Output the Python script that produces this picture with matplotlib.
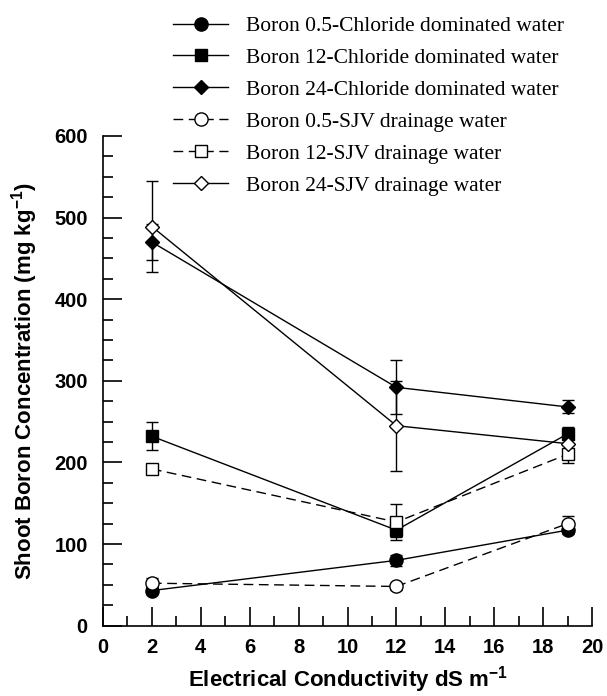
import matplotlib
matplotlib.use("Agg")
import matplotlib.pyplot as plt
from matplotlib.ticker import MultipleLocator

plt.rcParams["mathtext.fontset"] = "custom"
plt.rcParams["mathtext.rm"] = "Liberation Sans"
plt.rcParams["mathtext.bf"] = "Liberation Sans:bold"

# conductivity levels (dS m-1)
ec = [2, 12, 19]

labels = ["Boron 0.5-Chloride dominated water",
          "Boron 12-Chloride dominated water",
          "Boron 24-Chloride dominated water",
          "Boron 0.5-SJV drainage water",
          "Boron 12-SJV drainage water",
          "Boron 24-SJV drainage water"]

cl_05 = [43, 80, 117]
cl_12 = [232, 117, 235]
cl_24 = [470, 292, 268]
sjv_05 = [52, 48, 125]
sjv_12 = [192, 127, 210]
sjv_24 = [489, 245, 223]

cl_05_err = [4, 7, 5]
cl_12_err = [17, 8, 8]
cl_24_err = [22, 33, 8]
sjv_05_err = [6, 4, 9]
sjv_12_err = [5, 22, 11]
sjv_24_err = [56, 55, 8]

series = [cl_05, cl_12, cl_24, sjv_05, sjv_12, sjv_24]
errs = [cl_05_err, cl_12_err, cl_24_err, sjv_05_err, sjv_12_err, sjv_24_err]
markers = ["o", "s", "D", "o", "s", "D"]
msizes = [9.5, 9, 7.5, 9.5, 9, 7.5]
faces = ["black", "black", "black", "white", "white", "white"]
styles = ["-", "-", "-", (0, (7, 4)), (0, (7, 4)), "-"]

fig = plt.figure(figsize=(6.07, 6.96), dpi=100)
ax = fig.add_axes([0.1697, 0.1011, 0.8056, 0.7035])

handles = []
for y, e, m, ms, fc, ls, lab in zip(series, errs, markers, msizes, faces, styles, labels):
    ax.errorbar(ec, y, yerr=e, fmt="none", ecolor="black", elinewidth=1,
                capsize=4.5, capthick=1, zorder=2)
    h, = ax.plot(ec, y, color="black", lw=1, linestyle=ls, marker=m,
                 markersize=ms, markerfacecolor=fc, markeredgecolor="black",
                 markeredgewidth=1, label=lab, zorder=3)
    handles.append(h)

ax.set_xlim(0, 20)
ax.set_ylim(0, 600)
ax.xaxis.set_major_locator(MultipleLocator(2))
ax.xaxis.set_minor_locator(MultipleLocator(1))
ax.yaxis.set_major_locator(MultipleLocator(100))
ax.yaxis.set_minor_locator(MultipleLocator(25))
ax.spines["top"].set_visible(False)
ax.spines["right"].set_visible(False)
for s in ["left", "bottom"]:
    ax.spines[s].set_linewidth(1.2)
ax.tick_params(which="major", direction="in", length=14, width=1.2, pad=11)
ax.tick_params(axis="x", which="major", pad=9)
ax.tick_params(which="minor", direction="in", length=7, width=1.2)
for t in ax.get_xticklabels() + ax.get_yticklabels():
    t.set_fontfamily("Liberation Sans")
    t.set_fontweight("bold")
    t.set_fontsize(14.5)

ax.set_xlabel("Electrical Conductivity dS m$^{\\mathbf{-1}}$", family="Liberation Sans",
              fontweight="bold", fontsize=16, labelpad=5)
ax.set_ylabel("Shoot Boron Concentration (mg kg$^{\\mathbf{-1}}$)", family="Liberation Sans",
              fontweight="bold", fontsize=16, labelpad=10)

leg = fig.legend(handles=handles, loc="upper left", bbox_to_anchor=(0.285, 0.977),
                 frameon=False, handlelength=2.56, handletextpad=0.84, borderpad=0,
                 borderaxespad=0, labelspacing=0.55,
                 prop={"family": "Liberation Serif", "size": 15.5})

fig.savefig("out.png", dpi=100)
